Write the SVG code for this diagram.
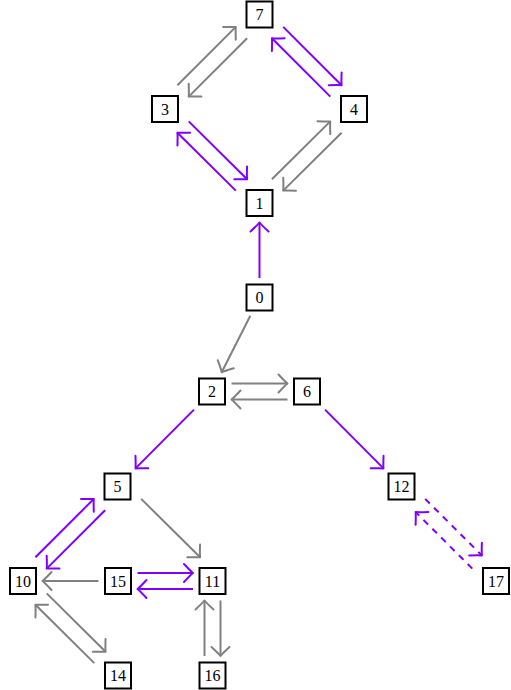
<svg xmlns="http://www.w3.org/2000/svg" width="511" height="690" viewBox="0 0 511 690">
<style>
.n rect{fill:#fff;stroke:#000;stroke-width:2}
.n text{font-family:"Liberation Serif","DejaVu Serif",serif;font-size:16px;text-anchor:middle;fill:#000}
.g{stroke:#808080;stroke-width:2;fill:none;marker-end:url(#ag)}
.p{stroke:#8000ff;stroke-width:2;fill:none;marker-end:url(#ap)}
.d{stroke-dasharray:6.5 6}
</style>
<defs>
<marker id="ag" viewBox="-12 -12 14 24" markerWidth="14" markerHeight="24" refX="0" refY="0" orient="auto" markerUnits="userSpaceOnUse">
<path d="M-9,-9 Q-2,-1.5 0,0 Q-2,1.5 -9,9" fill="none" stroke="#808080" stroke-width="2" stroke-linecap="round" stroke-linejoin="round"/>
</marker>
<marker id="ap" viewBox="-12 -12 14 24" markerWidth="14" markerHeight="24" refX="0" refY="0" orient="auto" markerUnits="userSpaceOnUse">
<path d="M-9,-9 Q-2,-1.5 0,0 Q-2,1.5 -9,9" fill="none" stroke="#8000ff" stroke-width="2" stroke-linecap="round" stroke-linejoin="round"/>
</marker>
</defs>
<g id="connectors">
<line class="g" x1="177.4" y1="85.3" x2="235.8" y2="26.9"/>
<line class="g" x1="247.1" y1="38.2" x2="188.7" y2="96.6"/>
<line class="p" x1="283.2" y1="26.9" x2="341.6" y2="85.3"/>
<line class="p" x1="330.3" y1="96.6" x2="271.9" y2="38.2"/>
<line class="p" x1="188.7" y1="121.4" x2="247.1" y2="179.3"/>
<line class="p" x1="235.8" y1="190.6" x2="177.4" y2="132.7"/>
<line class="g" x1="271.9" y1="179.3" x2="330.3" y2="121.4"/>
<line class="g" x1="341.6" y1="132.7" x2="283.2" y2="190.6"/>
<line class="p" x1="259.5" y1="278" x2="259.5" y2="222.5"/>
<line class="g" x1="250.3" y1="315.8" x2="221.7" y2="372.3"/>
<line class="g" x1="231.5" y1="383.5" x2="287.5" y2="383.5"/>
<line class="g" x1="287.5" y1="399.5" x2="231.5" y2="399.5"/>
<line class="p" x1="194" y1="409.6" x2="135.5" y2="468.4"/>
<line class="p" x1="325" y1="409.6" x2="383.5" y2="468.4"/>
<line class="p d" x1="425.2" y1="498.9" x2="481.9" y2="555.5"/>
<line class="p d" x1="472.3" y1="568.6" x2="415.6" y2="512"/>
<line class="p" x1="35.4" y1="557.3" x2="93.8" y2="498.9"/>
<line class="p" x1="105.1" y1="510.2" x2="46.7" y2="568.6"/>
<line class="g" x1="141.2" y1="498.9" x2="200.1" y2="557.3"/>
<line class="p" x1="137.5" y1="573" x2="193" y2="573"/>
<line class="p" x1="193" y1="589" x2="137.5" y2="589"/>
<line class="g" x1="98.5" y1="581" x2="42.5" y2="581"/>
<line class="g" x1="46.7" y1="593.4" x2="105.6" y2="651.8"/>
<line class="g" x1="94.3" y1="663.1" x2="35.4" y2="604.7"/>
<line class="g" x1="204.5" y1="656" x2="204.5" y2="600.5"/>
<line class="g" x1="220.5" y1="600.5" x2="220.5" y2="656"/>
</g>
<g id="n7" class="n"><rect x="246.5" y="1.5" width="26" height="26"/><text x="259.5" y="20">7</text></g>
<g id="n3" class="n"><rect x="152" y="96" width="26" height="26"/><text x="165" y="114.5">3</text></g>
<g id="n4" class="n"><rect x="341" y="96" width="26" height="26"/><text x="354" y="114.5">4</text></g>
<g id="n1" class="n"><rect x="246.5" y="190" width="26" height="26"/><text x="259.5" y="208.5">1</text></g>
<g id="n0" class="n"><rect x="246.5" y="284.5" width="26" height="26"/><text x="259.5" y="303">0</text></g>
<g id="n2" class="n"><rect x="199" y="378.5" width="26" height="26"/><text x="212" y="397">2</text></g>
<g id="n6" class="n"><rect x="294" y="378.5" width="26" height="26"/><text x="307" y="397">6</text></g>
<g id="n5" class="n"><rect x="104.5" y="473.5" width="26" height="26"/><text x="117.5" y="492">5</text></g>
<g id="n12" class="n"><rect x="388.5" y="473.5" width="26" height="26"/><text x="401.5" y="492">12</text></g>
<g id="n10" class="n"><rect x="10" y="568" width="26" height="26"/><text x="23" y="586.5">10</text></g>
<g id="n15" class="n"><rect x="105" y="568" width="26" height="26"/><text x="118" y="586.5">15</text></g>
<g id="n11" class="n"><rect x="199.5" y="568" width="26" height="26"/><text x="212.5" y="586.5">11</text></g>
<g id="n17" class="n"><rect x="483" y="568" width="26" height="26"/><text x="496" y="586.5">17</text></g>
<g id="n14" class="n"><rect x="105" y="662.5" width="26" height="26"/><text x="118" y="681">14</text></g>
<g id="n16" class="n"><rect x="199.5" y="662.5" width="26" height="26"/><text x="212.5" y="681">16</text></g>
</svg>
